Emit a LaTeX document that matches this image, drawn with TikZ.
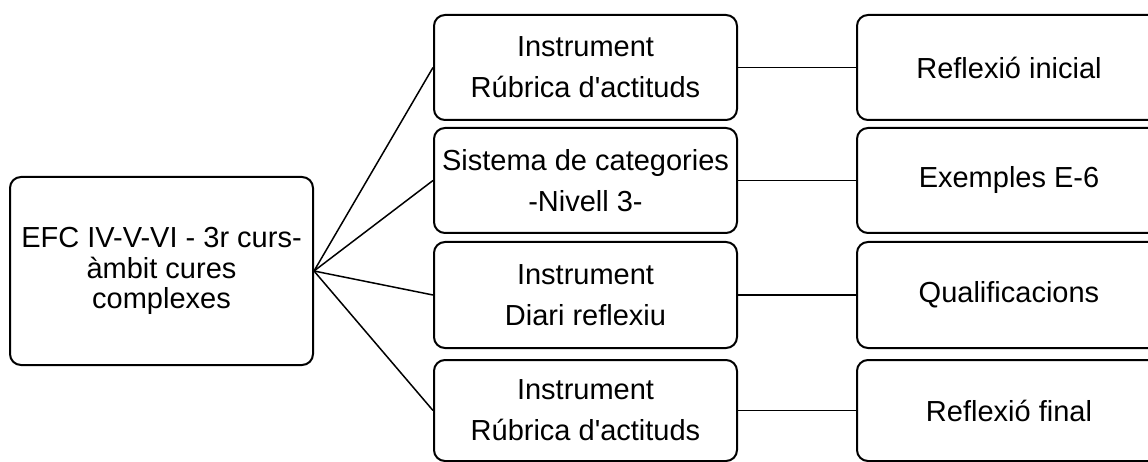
\documentclass[tikz,border=0pt]{standalone}
\usepackage{fontspec}
\setmainfont{Liberation Sans}
\begin{document}
\begin{tikzpicture}[x=1pt,y=-1pt,
  box/.style={draw=black, line width=2pt, rounded corners=11pt, inner sep=0pt,
    align=center, font=\fontsize{29pt}{41pt}\selectfont},
  rootbox/.style={box, minimum width=303pt, minimum height=188pt,
    font=\fontsize{29pt}{30.5pt}\selectfont},
  midbox/.style={box, minimum width=303pt},
  endbox/.style={box, minimum width=304pt},
  link/.style={draw=black, line width=1.5pt}]
\useasboundingbox (0,0) rectangle (1148,462);
\clip (0,0) rectangle (1148,462);

% root
\node[rootbox] (root) at (161.5,271) {EFC IV-V-VI - 3r curs-\\àmbit cures\\complexes};

% instruments
\node[midbox, minimum height=105pt] (m1) at (585.5,67.5) {Instrument\\Rúbrica d\textquotesingle actituds};
\node[midbox, minimum height=105pt] (m2) at (585.5,180.5) {Sistema de categories\\-Nivell 3-};
\node[midbox, minimum height=106pt] (m3) at (585.5,295) {Instrument\\Diari reflexiu};
\node[midbox, minimum height=101pt] (m4) at (585.5,410.5) {Instrument\\Rúbrica d\textquotesingle actituds};

% outcomes
\node[endbox, minimum height=105pt] (r1) at (1009,67.5) {Reflexió inicial};
\node[endbox, minimum height=105pt] (r2) at (1009,180.5) {Exemples E-6};
\node[endbox, minimum height=106pt] (r3) at (1009,295) {Qualificacions};
\node[endbox, minimum height=101pt] (r4) at (1009,410.5) {Reflexió final};

% connectors
\foreach \i in {1,2,3,4}{
  \draw[link] (root.east) -- (m\i.west);
  \draw[link] (m\i.east) -- (r\i.west);
}
\end{tikzpicture}
\end{document}
